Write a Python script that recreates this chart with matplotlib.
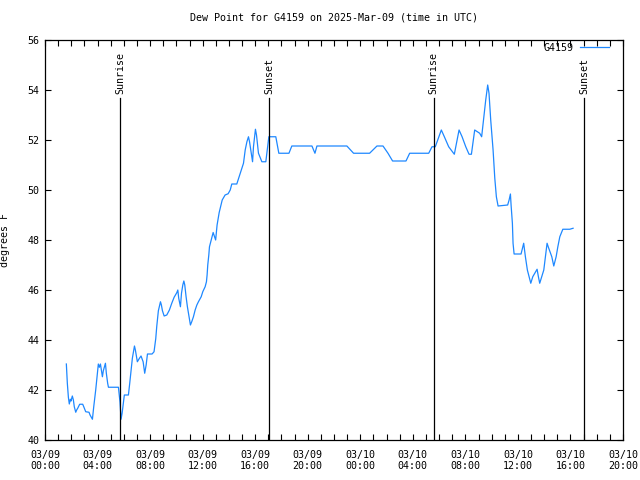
import matplotlib
matplotlib.use("Agg")
import matplotlib.pyplot as plt
import matplotlib.dates as mdates
from matplotlib.ticker import MultipleLocator
import pandas as pd

# hours since 2025-03-09 00:00 UTC
hours = [1.625, 1.70, 1.78, 1.85, 1.93, 1.98, 2.08, 2.16, 2.23, 2.34, 2.41, 2.49, 2.64, 2.87, 2.95,
         3.10, 3.35, 3.43, 3.61, 3.71, 3.78, 3.86, 3.94, 4.06, 4.14, 4.22, 4.29, 4.37, 4.44, 4.60,
         4.67, 4.77, 4.83, 5.59, 5.71, 5.79, 5.87, 6.04, 6.35, 6.45, 6.58, 6.65, 6.81, 6.88, 7.03,
         7.19, 7.31, 7.47, 7.59, 7.70, 7.80, 8.15, 8.30, 8.43, 8.51, 8.63, 8.79, 8.86, 8.94,
         9.07, 9.27, 9.47, 9.65, 9.83, 10.03, 10.11, 10.18, 10.31, 10.39, 10.49, 10.57, 10.64,
         10.74, 10.84, 10.97, 11.07, 11.17, 11.30, 11.43, 11.56, 11.68, 11.89, 12.01, 12.19,
         12.29, 12.34, 12.39, 12.47, 12.52, 12.62, 12.80, 12.99, 13.10, 13.26, 13.49, 13.71,
         13.94, 14.10, 14.22, 14.60, 14.78, 14.93, 15.11, 15.24, 15.37, 15.49, 15.57, 15.80,
         15.87, 16.02, 16.10, 16.25, 16.51, 16.81, 17.04, 17.57, 17.80, 18.57, 18.79, 20.32,
         20.55, 20.70, 22.98, 23.49, 24.71, 25.27, 25.73, 26.11, 26.46, 27.48, 27.76, 29.21,
         29.46, 29.71, 30.17, 30.40, 30.73, 31.16, 31.52, 31.75, 32.03, 32.28, 32.46, 32.71,
         33.09, 33.24, 33.40, 33.55, 33.70, 33.80, 33.93, 34.11, 34.24, 34.36, 34.49, 35.22,
         35.33, 35.43, 35.48, 35.58, 35.63, 35.71, 36.24, 36.44, 36.57, 36.72, 36.98, 37.13,
         37.46, 37.56, 37.66, 37.97, 38.10, 38.22, 38.32, 38.58, 38.73, 38.91, 39.04, 39.19,
         39.42, 39.95, 40.20]
dewpoint = [43.04, 42.27, 41.71, 41.44, 41.63, 41.56, 41.76, 41.60, 41.33, 41.11, 41.20, 41.27, 41.43, 41.43, 41.33,
            41.13, 41.11, 41.00, 40.83, 41.33, 41.63, 42.00, 42.43, 43.04, 42.91, 43.04, 42.80, 42.53, 42.77, 43.07,
            42.67, 42.27, 42.11, 42.11, 41.51, 40.83, 41.07, 41.80, 41.80, 42.27, 42.93, 43.27, 43.76, 43.60, 43.13,
            43.27, 43.36, 43.13, 42.67, 43.00, 43.44, 43.44, 43.53, 44.05, 44.56, 45.17, 45.53, 45.40, 45.17,
            44.96, 45.00, 45.20, 45.47, 45.71, 45.89, 46.00, 45.67, 45.33, 45.87, 46.20, 46.36, 46.20,
            45.73, 45.33, 44.93, 44.60, 44.73, 44.93, 45.20, 45.40, 45.53, 45.73, 45.93, 46.13,
            46.33, 46.60, 47.00, 47.40, 47.73, 47.93, 48.30, 48.00, 48.60, 49.10, 49.60, 49.80,
            49.85, 50.00, 50.24, 50.24, 50.53, 50.77, 51.07, 51.60, 51.93, 52.13, 51.93, 51.13,
            51.73, 52.43, 52.20, 51.47, 51.13, 51.13, 52.13, 52.13, 51.47, 51.47, 51.76, 51.76,
            51.47, 51.76, 51.76, 51.47, 51.47, 51.76, 51.76, 51.47, 51.16, 51.16, 51.47, 51.47,
            51.73, 51.73, 52.40, 52.13, 51.73, 51.43, 52.40, 52.13, 51.73, 51.43, 51.43, 52.40,
            52.27, 52.13, 52.87, 53.60, 54.20, 53.87, 52.80, 51.60, 50.47, 49.73, 49.36, 49.40,
            49.60, 49.84, 49.40, 48.67, 47.87, 47.44, 47.44, 47.87, 47.33, 46.80, 46.27, 46.53,
            46.83, 46.53, 46.27, 46.80, 47.36, 47.87, 47.71, 47.33, 46.96, 47.33, 47.73, 48.13,
            48.43, 48.43, 48.47]

sun_events = ["2025-03-09 05:44", "2025-03-09 17:05", "2025-03-10 05:35", "2025-03-10 17:02"]
sun_labels = ["Sunrise", "Sunset", "Sunrise", "Sunset"]

start = pd.Timestamp("2025-03-09 00:00")
end = pd.Timestamp("2025-03-10 20:00")
times = [start + pd.Timedelta(hours=h) for h in hours]

plt.rcParams['font.family'] = ['DejaVu Sans Mono']
FS = 7.2

fig = plt.figure(figsize=(6.4, 4.8), dpi=100)
ax = fig.add_axes([45/640, 40/480, 578/640, 400/480])

ax.plot(times, dewpoint, color='#1e88ff', lw=0.9, label='G4159')

for t, lab in zip(sun_events, sun_labels):
    ts = pd.Timestamp(t)
    ax.plot([ts, ts], [40, 53.68], color='black', lw=0.9)
    ax.text(ts, 53.85, lab, rotation=90, ha='center', va='bottom', fontsize=FS)

ax.set_xlim(start, end)
ax.set_ylim(40, 56)
ax.xaxis.set_major_locator(mdates.HourLocator(byhour=range(0, 24, 4)))
ax.xaxis.set_minor_locator(mdates.HourLocator())
ax.xaxis.set_major_formatter(mdates.DateFormatter('%m/%d\n%H:%M'))
ax.yaxis.set_major_locator(MultipleLocator(2))
ax.tick_params(which='both', direction='in', top=True, right=True, length=4, width=0.8,
               labelsize=FS)
ax.tick_params(axis='x', which='major', pad=7)
ax.tick_params(axis='y', which='major', pad=4)
for s in ax.spines.values():
    s.set_linewidth(0.9)

ax.set_title('Dew Point for G4159 on 2025-Mar-09 (time in UTC)', fontsize=FS, pad=14)
ax.set_ylabel('degrees F', fontsize=FS)
ax.yaxis.set_label_coords(-35/578, 0.5)

ax.legend(loc='center right', bbox_to_anchor=((609-45)/578, 1 - 8/400), frameon=False,
          markerfirst=False, fontsize=FS, borderpad=0, borderaxespad=0,
          handlelength=2.9, handletextpad=0.6)

fig.savefig('out.png', dpi=100)
